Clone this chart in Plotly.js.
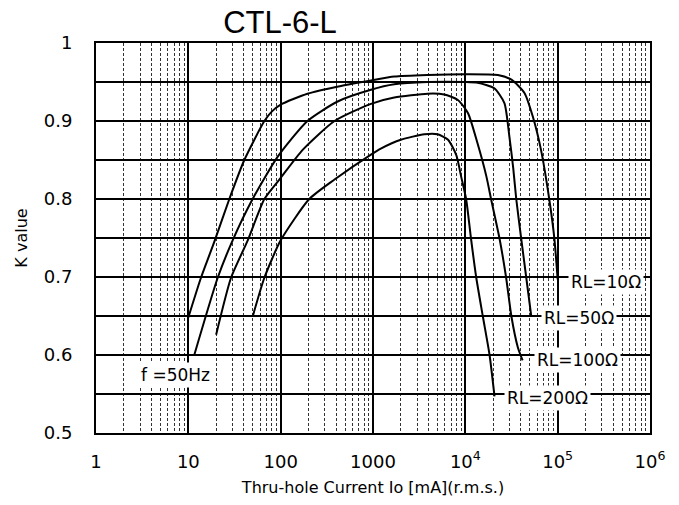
<!DOCTYPE html>
<html>
<head>
<meta charset="utf-8">
<script src="https://cdn.plot.ly/plotly-3.0.1.min.js"></script>
<style>html,body{margin:0;padding:0;background:#fff;}</style>
</head>
<body>
<div id="chart" style="width:679px;height:505px;"></div>
<script>
// Data (x: Thru-hole current in mA, y: K value)
const rl10_x = [10, 13.7, 19.1, 27.8, 40.4, 66.6, 80, 100, 195, 450, 950, 1700, 3900, 10000, 22500, 31600, 43700, 53700, 66000, 81000, 92000, 100000];
const rl10_y = [0.648, 0.699, 0.745, 0.80, 0.85, 0.90, 0.912, 0.921, 0.935, 0.945, 0.952, 0.957, 0.959, 0.960, 0.959, 0.953, 0.936, 0.906, 0.863, 0.80, 0.75, 0.697];

const rl50_x = [11.6, 20.8, 30.2, 49.7, 92.6, 195, 414, 950, 1700, 3900, 10000, 13600, 20600, 26500, 30000, 33000, 35600, 40200, 45600, 51600];
const rl50_y = [0.60, 0.699, 0.747, 0.80, 0.854, 0.90, 0.925, 0.940, 0.947, 0.950, 0.950, 0.949, 0.942, 0.923, 0.88, 0.84, 0.80, 0.75, 0.70, 0.651];

const rl100_x = [20, 29, 44, 66.6, 100, 173, 383, 950, 1700, 3900, 5900, 8300, 10700, 13500, 16900, 19000, 23400, 27600, 31600, 37000, 41700];
const rl100_y = [0.626, 0.699, 0.747, 0.80, 0.827, 0.863, 0.90, 0.922, 0.930, 0.935, 0.934, 0.927, 0.910, 0.872, 0.829, 0.80, 0.75, 0.70, 0.649, 0.61, 0.593];

const rl200_x = [49.7, 66.6, 100, 204, 383, 950, 1230, 2000, 3600, 5000, 6500, 8000, 9000, 10200, 11500, 13100, 15500, 18300, 20700];
const rl200_y = [0.649, 0.699, 0.747, 0.80, 0.825, 0.857, 0.865, 0.876, 0.883, 0.883, 0.876, 0.856, 0.829, 0.80, 0.75, 0.70, 0.649, 0.60, 0.547];

const seriesNames = ['RL=10Ω', 'RL=50Ω', 'RL=100Ω', 'RL=200Ω'];
const xTickVals = [1, 10, 100, 1000, 10000, 100000, 1000000];
const xTickText = ['1', '10', '100', '1000', '10<sup>4</sup>', '10<sup>5</sup>', '10<sup>6</sup>'];
const yTickVals = [0.5, 0.6, 0.7, 0.8, 0.9, 1.0];
const yTickText = ['0.5', '0.6', '0.7', '0.8', '0.9', '1'];

const xs = [rl10_x, rl50_x, rl100_x, rl200_x];
const ys = [rl10_y, rl50_y, rl100_y, rl200_y];

const traces = xs.map((x, i) => ({
  x: x, y: ys[i], type: 'scatter', mode: 'lines', name: seriesNames[i],
  line: {color: '#000', width: 2, shape: 'spline', smoothing: 0.6},
  hoverinfo: 'skip'
}));

const labelFont = {family: 'DejaVu Sans', size: 17, color: '#000'};
function label(text, xlog, y) {
  return {text: text, x: xlog, y: y, xref: 'x', yref: 'y', xanchor: 'left', yanchor: 'middle',
          showarrow: false, bgcolor: '#fff', borderpad: 2, font: labelFont};
}

const layout = {
  width: 679, height: 505,
  margin: {l: 96, r: 29, t: 43, b: 72},
  paper_bgcolor: '#fff', plot_bgcolor: '#fff',
  showlegend: false,
  title: {text: 'CTL-6-L', font: {family: 'Liberation Sans', size: 31, color: '#000'},
          x: 280/679, xanchor: 'center', xref: 'container', y: 1 - 22/505, yanchor: 'middle', yref: 'container'},
  xaxis: {
    type: 'log', range: [0, 6],
    tickvals: xTickVals, ticktext: xTickText,
    tickfont: {family: 'DejaVu Sans', size: 18, color: '#000'},
    ticks: '', ticklabelstandoff: 11,
    showgrid: true, gridcolor: '#000', gridwidth: 2,
    minor: {dtick: 'D1', showgrid: true, gridcolor: '#333', gridwidth: 1, griddash: '3px,2px', ticks: ''},
    showline: true, mirror: true, linecolor: '#000', linewidth: 2,
    zeroline: false,
    title: {text: 'Thru-hole Current Io [mA](r.m.s.)', font: {family: 'DejaVu Sans', size: 16, color: '#000'}, standoff: 11}
  },
  yaxis: {
    range: [0.5, 1],
    tickvals: yTickVals, ticktext: yTickText,
    tickfont: {family: 'DejaVu Sans', size: 18, color: '#000'},
    ticks: '', ticklabelstandoff: 18,
    showgrid: true, gridcolor: '#000', gridwidth: 1.5,
    minor: {dtick: 0.05, tick0: 0.5, showgrid: true, gridcolor: '#000', gridwidth: 1.5, ticks: ''},
    showline: true, mirror: true, linecolor: '#000', linewidth: 2,
    zeroline: false,
    title: {text: 'K value', font: {family: 'DejaVu Sans', size: 16, color: '#000'}, standoff: 12}
  },
  annotations: [
    label(seriesNames[0], 5.11, 0.694),
    label(seriesNames[1], 4.82, 0.647),
    label(seriesNames[2], 4.745, 0.594),
    label(seriesNames[3], 4.42, 0.545),
    label('f =50Hz', 0.45, 0.574)
  ]
};

Plotly.newPlot('chart', traces, layout, {displayModeBar: false, staticPlot: true});
</script>
</body>
</html>
